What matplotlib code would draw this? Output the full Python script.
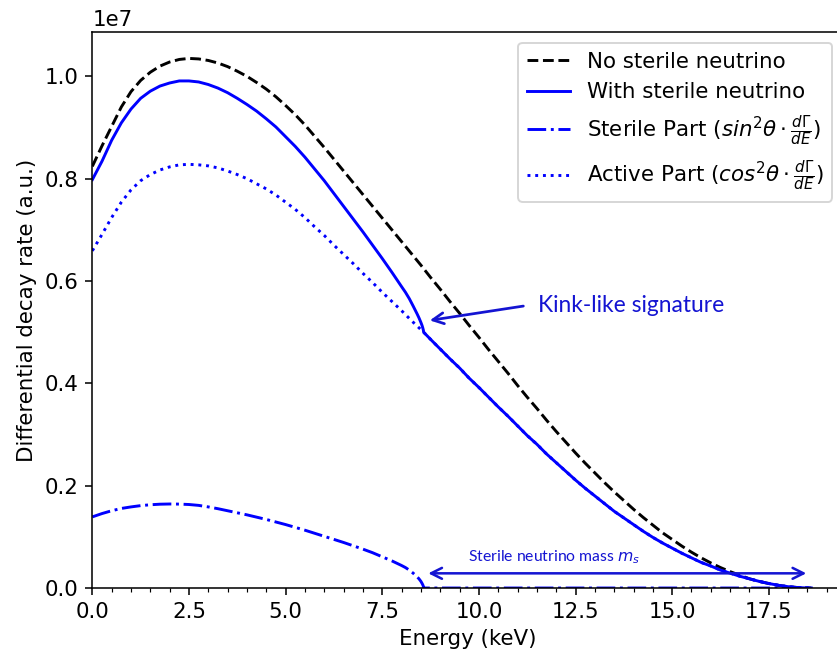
import numpy as np
import matplotlib
matplotlib.use("Agg")
import matplotlib.pyplot as plt
from matplotlib.ticker import AutoMinorLocator

SCALE = 1e7  # values below are in units of 1e7

# ---- No sterile neutrino (dashed black)
E_ns = [0.0, 0.25, 0.5, 0.75, 1.0, 1.25, 1.5, 1.75, 2.0, 2.25, 2.5, 2.75,
        3.0, 3.25, 3.5, 3.75, 4.0, 4.25, 4.5, 4.75, 5.0, 5.25, 5.5, 5.75,
        6.0, 6.25, 6.5, 6.75, 7.0, 7.25, 7.5, 7.75, 8.0, 8.25, 8.5, 8.75,
        9.0, 9.25, 9.5, 9.75, 10.0, 10.25, 10.5, 10.75, 11.0, 11.25, 11.5, 11.75,
        12.0, 12.25, 12.5, 12.75, 13.0, 13.25, 13.5, 13.75, 14.0, 14.25, 14.5, 14.75,
        15.0, 15.25, 15.5, 15.75, 16.0, 16.25, 16.5, 16.75, 17.0, 17.25, 17.5, 17.75,
        18.0, 18.25, 18.45, 18.6]
no_sterile = [0.824, 0.864, 0.902, 0.940, 0.970, 0.992, 1.008, 1.020, 1.028, 1.033, 1.035, 1.034,
              1.031, 1.026, 1.019, 1.010, 1.000, 0.988, 0.975, 0.960, 0.943, 0.925, 0.905, 0.883,
              0.861, 0.838, 0.815, 0.792, 0.769, 0.746, 0.723, 0.700, 0.677, 0.654, 0.631, 0.607,
              0.584, 0.560, 0.537, 0.513, 0.490, 0.466, 0.443, 0.420, 0.396, 0.373, 0.351, 0.328,
              0.306, 0.285, 0.264, 0.244, 0.225, 0.206, 0.188, 0.171, 0.154, 0.138, 0.123, 0.108,
              0.095, 0.082, 0.070, 0.059, 0.049, 0.040, 0.032, 0.025, 0.018, 0.013, 0.0087, 0.0052,
              0.0026, 0.0009, 0.0002, 0.0]

# ---- Tail shared by the total and the active part above the kink
E_tail = [8.75, 9.0, 9.25, 9.5, 9.75, 10.0, 10.25, 10.5, 10.75, 11.0, 11.25, 11.5, 11.75,
          12.0, 12.25, 12.5, 12.75, 13.0, 13.25, 13.5, 13.75, 14.0, 14.25, 14.5, 14.75,
          15.0, 15.25, 15.5, 15.75, 16.0, 16.25, 16.5, 16.75, 17.0, 17.25, 17.5, 17.75,
          18.0, 18.25, 18.45, 18.6]
tail_vals = [0.486, 0.467, 0.448, 0.430, 0.410, 0.392, 0.373, 0.354, 0.336, 0.317, 0.298, 0.281, 0.262,
             0.245, 0.228, 0.211, 0.195, 0.180, 0.165, 0.150, 0.137, 0.124, 0.111, 0.099, 0.088,
             0.078, 0.068, 0.059, 0.050, 0.043, 0.035, 0.029, 0.023, 0.018, 0.013, 0.0088, 0.0053,
             0.0026, 0.0009, 0.0002, 0.0]

# ---- With sterile neutrino (solid blue), below and at the kink
E_ws = [0.0, 0.25, 0.5, 0.75, 1.0, 1.25, 1.5, 1.75, 2.0, 2.25, 2.5, 2.75,
        3.0, 3.25, 3.5, 3.75, 4.0, 4.25, 4.5, 4.75, 5.0, 5.25, 5.5, 5.75,
        6.0, 6.25, 6.5, 6.75, 7.0, 7.25, 7.5, 7.75, 8.0,
        8.1, 8.2, 8.3, 8.4, 8.45, 8.5, 8.53, 8.55, 8.565, 8.57]
with_sterile = [0.798, 0.834, 0.875, 0.909, 0.936, 0.957, 0.971, 0.981, 0.987, 0.991, 0.991, 0.989,
                0.984, 0.977, 0.968, 0.957, 0.945, 0.932, 0.917, 0.901, 0.882, 0.863, 0.842, 0.819,
                0.796, 0.771, 0.746, 0.721, 0.696, 0.670, 0.644, 0.617, 0.589,
                0.578, 0.5655, 0.551, 0.536, 0.528, 0.519, 0.513, 0.508, 0.5035, 0.500]

# ---- Sterile part (dash-dot blue)
E_st = [0.0, 0.25, 0.5, 0.75, 1.0, 1.25, 1.5, 1.75, 2.0, 2.25, 2.5, 2.75,
        3.0, 3.25, 3.5, 3.75, 4.0, 4.25, 4.5, 4.75, 5.0, 5.25, 5.5, 5.75,
        6.0, 6.25, 6.5, 6.75, 7.0, 7.25, 7.5, 7.75, 8.0,
        8.1, 8.2, 8.3, 8.4, 8.45, 8.5, 8.53, 8.55, 8.565, 8.57, 18.6]
sterile_part = [0.139, 0.1455, 0.151, 0.1555, 0.1585, 0.161, 0.1627, 0.1638, 0.1642, 0.164, 0.1632, 0.1615,
                0.1585, 0.155, 0.151, 0.147, 0.143, 0.1385, 0.134, 0.129, 0.124, 0.1185, 0.113, 0.107,
                0.101, 0.095, 0.089, 0.0825, 0.076, 0.069, 0.061, 0.053, 0.044,
                0.040, 0.035, 0.029, 0.022, 0.018, 0.013, 0.009, 0.006, 0.003, 0.0, 0.0]

# ---- Active part (dotted blue), below and at the kink
E_ac = [0.0, 0.25, 0.5, 0.75, 1.0, 1.25, 1.5, 1.75, 2.0, 2.25, 2.5, 2.75,
        3.0, 3.25, 3.5, 3.75, 4.0, 4.25, 4.5, 4.75, 5.0, 5.25, 5.5, 5.75,
        6.0, 6.25, 6.5, 6.75, 7.0, 7.25, 7.5, 7.75, 8.0, 8.25, 8.5, 8.57]
active_part = [0.659, 0.691, 0.724, 0.754, 0.778, 0.796, 0.808, 0.817, 0.823, 0.827, 0.828, 0.827,
               0.825, 0.821, 0.815, 0.808, 0.800, 0.790, 0.780, 0.768, 0.754, 0.740, 0.724, 0.706,
               0.689, 0.670, 0.652, 0.634, 0.615, 0.597, 0.578, 0.560, 0.542, 0.523, 0.505, 0.500]

labels = ["No sterile neutrino", "With sterile neutrino",
          r"Sterile Part ($sin^2\theta \cdot \frac{d\Gamma}{dE}$)",
          r"Active Part ($cos^2\theta \cdot \frac{d\Gamma}{dE}$)"]

kink_text = "Kink-like signature"
mass_text = r"Sterile neutrino mass $m_s$"
ann_color = "#1414d2"

assert len(E_ns) == len(no_sterile)
assert len(E_tail) == len(tail_vals)
assert len(E_ws) == len(with_sterile)
assert len(E_st) == len(sterile_part)
assert len(E_ac) == len(active_part)

plt.rcParams["font.size"] = 11

DPI = 140
fig = plt.figure(figsize=(837 / DPI, 657 / DPI), dpi=DPI)
ax = fig.add_axes([0.1103, 0.1050, 0.8969, 0.8458])

x_ws = E_ws + E_tail
y_ws = with_sterile + tail_vals
x_ac = E_ac + E_tail
y_ac = active_part + tail_vals

ax.plot(E_ns, np.array(no_sterile) * SCALE, "k--", label=labels[0])
ax.plot(x_ws, np.array(y_ws) * SCALE, "-", color="blue", label=labels[1])
ax.plot(E_st, np.array(sterile_part) * SCALE, "-.", color="blue", label=labels[2])
ax.plot(x_ac, np.array(y_ac) * SCALE, ":", color="blue", label=labels[3])

ax.set_xlim(0, 19.42)
ax.set_ylim(0, 1.086e7)
ax.xaxis.set_minor_locator(AutoMinorLocator())
ax.set_xlabel("Energy (keV)")
ax.set_ylabel("Differential decay rate (a.u.)")
ax.legend(loc="upper right")

# Kink annotation
ax.annotate("", xy=(8.73, 0.523 * SCALE), xytext=(11.15, 0.551 * SCALE),
            arrowprops=dict(arrowstyle="->", color=ann_color, lw=1.4,
                            mutation_scale=14, shrinkA=0, shrinkB=0))
ax.text(11.53, 0.553 * SCALE, kink_text, color=ann_color, fontsize=11.7,
        family="Lato", va="center", ha="left")

# Mass double arrow
ax.annotate("", xy=(8.69, 0.0287 * SCALE), xytext=(18.47, 0.0287 * SCALE),
            arrowprops=dict(arrowstyle="<->", color=ann_color, lw=1.3,
                            mutation_scale=14, shrinkA=0, shrinkB=0))
ax.text(9.72, 0.061 * SCALE, mass_text, color=ann_color, fontsize=8.1,
        family="Lato", va="center", ha="left")

fig.savefig("out.png", dpi=DPI)
